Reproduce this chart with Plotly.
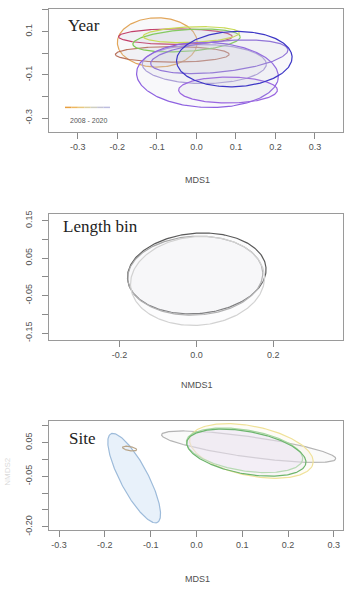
import numpy as np
import plotly.graph_objects as go

W, H = 352, 595

# ---------------- Data: ellipse parameters (data units, angle in degrees) -------------
# Panel 1: Year (2008 - 2020)
year_ids = ["2008", "2009", "2010", "2011", "2012", "2013", "2014", "2016", "2018", "2020"]
year_cx = [-0.099, -0.053, -0.061, -0.025, -0.013, 0.020, 0.058, 0.028, 0.080, 0.096]
year_cy = [0.050, 0.077, -0.005, 0.059, 0.086, -0.050, -0.016, -0.100, -0.170, -0.027]
year_a = [0.101, 0.144, 0.144, 0.137, 0.122, 0.157, 0.177, 0.180, 0.125, 0.147]
year_b = [0.114, 0.036, 0.036, 0.050, 0.036, 0.090, 0.070, 0.150, 0.060, 0.127]
year_ang = [0, 0, 0, 8, 4, 0, 12, -8, 0, 12]
year_col = ["#E2A65A", "#C2406A", "#B8705A", "#7CCB52", "#C9DA55", "#A89AD8",
            "#8A6AD8", "#8E62E0", "#9A66E0", "#3C36C6"]

# Panel 2: Length bin
len_ids = ["bin1", "bin2", "bin3"]
len_cx = [0.001, -0.003, 0.003]
len_cy = [0.009, 0.003, -0.011]
len_a = [0.181, 0.176, 0.175]
len_b = [0.107, 0.105, 0.118]
len_ang = [5, 3, 5]
len_col = ["#5A5A5A", "#A8A8A8", "#D2D2D2"]

# Panel 3: Site
site_ids = ["siteA", "siteB", "siteC", "siteD", "siteE", "siteF"]
site_cx = [-0.136, -0.146, 0.114, 0.120, 0.105, 0.109]
site_cy = [-0.0555, 0.032, 0.0375, 0.025, 0.027, 0.020]
site_a = [0.141, 0.016, 0.1936, 0.140, 0.130, 0.134]
site_b = [0.032, 0.006, 0.030, 0.072, 0.060, 0.062]
site_ang = [-69.6, -15, -10.8, -18, -14, -15.6]
site_col = ["#9DBBDA", "#B8A488", "#B4B4B4", "#F0E29A", "#A8D8A0", "#6DB56D"]
site_fill = ["rgba(205,225,245,0.45)", "rgba(0,0,0,0)", "rgba(235,235,235,0.25)",
             "rgba(245,235,200,0.15)", "rgba(235,225,245,0.35)", "rgba(230,225,245,0.25)"]

# Axis ticks
p1_xt = [-0.3, -0.2, -0.1, 0.0, 0.1, 0.2, 0.3]
p1_xl = ["-0.3", "-0.2", "-0.1", "0.0", "0.1", "0.2", "0.3"]
p1_yt = [0.2, 0.1, 0.0, -0.1, -0.2, -0.3]
p1_yl = ["", "0.1", "", "-0.1", "", "-0.3"]

p2_xt = [-0.2, 0.0, 0.2]
p2_xl = ["-0.2", "0.0", "0.2"]
p2_yt = [0.15, 0.10, 0.05, 0.0, -0.05, -0.10, -0.15]
p2_yl = ["0.15", "", "0.05", "", "-0.05", "", "-0.15"]

p3_xt = [-0.3, -0.2, -0.1, 0.0, 0.1, 0.2, 0.3]
p3_xl = ["-0.3", "-0.2", "-0.1", "0.0", "0.1", "0.2", "0.3"]
p3_yt = [0.10, 0.05, 0.0, -0.05, -0.10, -0.15, -0.20]
p3_yl = ["", "0.05", "", "-0.05", "", "", "-0.20"]

legend_cols = ["#E8A040", "#EDB860", "#E8C880", "#DDD0A0", "#CFCFC0", "#C4C4D4", "#BDBDE0"]


def ellipse(cx, cy, a, b, ang, n=240):
    t = np.linspace(0, 2 * np.pi, n)
    th = np.deg2rad(ang)
    x = cx + a * np.cos(t) * np.cos(th) - b * np.sin(t) * np.sin(th)
    y = cy + a * np.cos(t) * np.sin(th) + b * np.sin(t) * np.cos(th)
    return x, y


def px(x):
    return x / W


def py(y):
    return 1 - y / H


fig = go.Figure()

# Panel 1
for i in range(len(year_ids)):
    x, y = ellipse(year_cx[i], year_cy[i], year_a[i], year_b[i], year_ang[i])
    fig.add_trace(go.Scatter(x=x, y=y, mode="lines", name=year_ids[i], xaxis="x", yaxis="y",
                             line=dict(color=year_col[i], width=1.2), fill="toself",
                             fillcolor="rgba(200,200,215,0.12)", hoverinfo="skip"))
# Panel 2
for i in range(len(len_ids)):
    x, y = ellipse(len_cx[i], len_cy[i], len_a[i], len_b[i], len_ang[i])
    fig.add_trace(go.Scatter(x=x, y=y, mode="lines", name=len_ids[i], xaxis="x2", yaxis="y2",
                             line=dict(color=len_col[i], width=1.2), fill="toself",
                             fillcolor="rgba(235,235,240,0.15)", hoverinfo="skip"))
# Panel 3
for i in range(len(site_ids)):
    x, y = ellipse(site_cx[i], site_cy[i], site_a[i], site_b[i], site_ang[i])
    fig.add_trace(go.Scatter(x=x, y=y, mode="lines", name=site_ids[i], xaxis="x3", yaxis="y3",
                             line=dict(color=site_col[i], width=1.2), fill="toself",
                             fillcolor=site_fill[i], hoverinfo="skip"))

font_tick = dict(family="Liberation Sans, Arial", size=9, color="#505050")
common = dict(showline=True, mirror=True, linecolor="#9A9A9A", linewidth=1, ticks="outside",
              ticklen=6, tickcolor="#8A8A8A", showgrid=False, zeroline=False, tickfont=font_tick,
              fixedrange=True)
xdom = [px(49), px(343)]

fig.update_layout(
    width=W, height=H, margin=dict(l=0, r=0, t=0, b=0),
    paper_bgcolor="white", plot_bgcolor="white", showlegend=False,
    xaxis=dict(domain=xdom, range=[-0.373, 0.371], anchor="y", tickvals=p1_xt, ticktext=p1_xl, **common),
    yaxis=dict(domain=[py(131), py(6)], range=[-0.364, 0.205], anchor="x", tickvals=p1_yt,
               ticktext=p1_yl, tickangle=-90, ticklabelstandoff=6, **common),
    xaxis2=dict(domain=xdom, range=[-0.384, 0.382], anchor="y2", tickvals=p2_xt, ticktext=p2_xl, **common),
    yaxis2=dict(domain=[py(342), py(214)], range=[-0.168, 0.168], anchor="x2", tickvals=p2_yt,
                ticktext=p2_yl, tickangle=-90, ticklabelstandoff=6, **common),
    xaxis3=dict(domain=xdom, range=[-0.322, 0.320], anchor="y3", tickvals=p3_xt, ticktext=p3_xl, **common),
    yaxis3=dict(domain=[py(535), py(424)], range=[-0.209, 0.115], anchor="x3", tickvals=p3_yt,
                ticktext=p3_yl, tickangle=-90, ticklabelstandoff=6, **common),
)

ann = []
serif = dict(family="Liberation Serif, Times New Roman", size=17, color="#222222")
ann.append(dict(text="Year", x=px(66), y=py(23), xanchor="left", yanchor="middle", font=serif))
ann.append(dict(text="Length bin", x=px(61), y=py(227), xanchor="left", yanchor="middle", font=serif))
ann.append(dict(text="Site", x=px(67), y=py(442), xanchor="left", yanchor="middle", font=serif))
lab = dict(family="Liberation Sans, Arial", size=9, color="#505050")
ann.append(dict(text="MDS1", x=px(197), y=py(180), xanchor="center", yanchor="middle", font=lab))
ann.append(dict(text="NMDS1", x=px(197), y=py(388), xanchor="center", yanchor="middle", font=lab))
ann.append(dict(text="MDS1", x=px(197), y=py(585), xanchor="center", yanchor="middle", font=lab))
ann.append(dict(text="NMDS2", x=px(8), y=py(476), xanchor="center", yanchor="middle", textangle=-90,
                font=dict(family="Liberation Sans, Arial", size=8, color="#DADADA")))
ann.append(dict(text="2008 - 2020", x=px(88), y=py(119), xanchor="center", yanchor="middle",
                font=dict(family="Liberation Sans, Arial", size=7, color="#555555")))
for a in ann:
    a.update(xref="paper", yref="paper", showarrow=False)
fig.update_layout(annotations=ann)

# legend colour ramp for years
shapes = []
n = len(legend_cols)
x0, x1 = 65, 110
for i, c in enumerate(legend_cols):
    xa = x0 + (x1 - x0) * i / n
    xb = x0 + (x1 - x0) * (i + 1) / n
    shapes.append(dict(type="line", xref="paper", yref="paper", x0=px(xa), x1=px(xb),
                       y0=py(106), y1=py(106), line=dict(color=c, width=1.5)))
fig.update_layout(shapes=shapes)

fig.write_html("out.html", config={"displayModeBar": False},
               post_script="document.body.style.margin='0';document.body.style.padding='0';")
